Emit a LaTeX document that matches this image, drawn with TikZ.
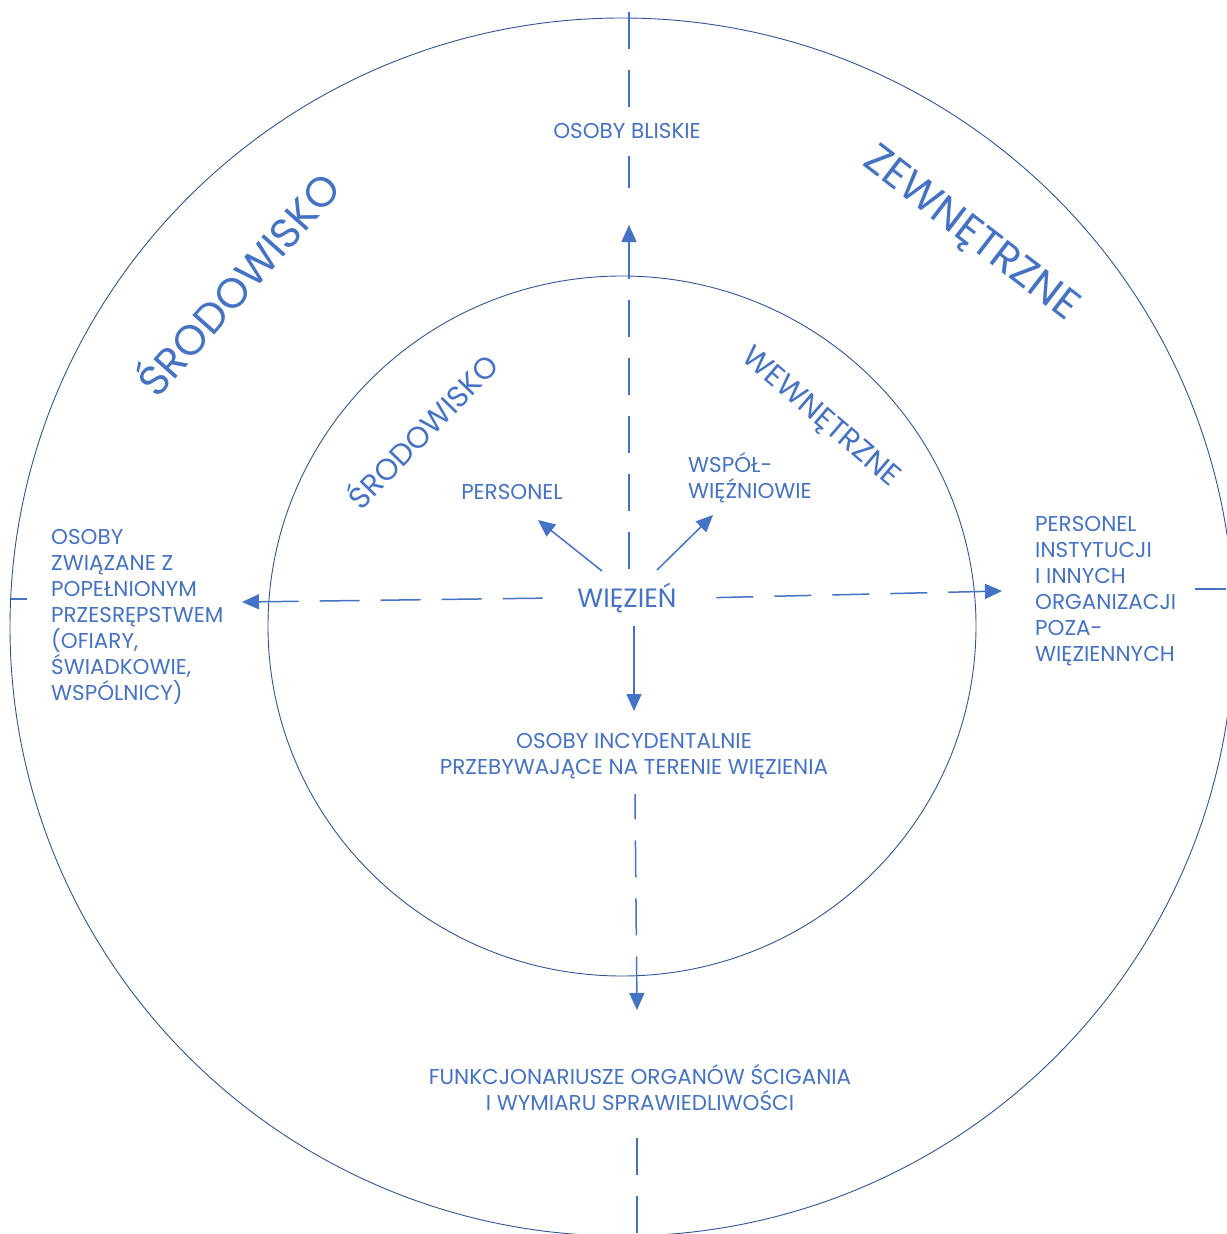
\documentclass[tikz,border=0pt]{standalone}
\usepackage{fontspec}
\setmainfont{Poppins}
\usetikzlibrary{arrows.meta}
\definecolor{tblue}{HTML}{4472C4}
\definecolor{cblue}{HTML}{2F5597}
\begin{document}
\begin{tikzpicture}[x=1pt,y=-1pt,
  lbl/.style={text=tblue, font=\fontsize{21.5}{26}\selectfont, inner sep=0pt},
  biglbl/.style={text=tblue, font=\fontsize{42}{50}\selectfont, inner sep=0pt},
  midlbl/.style={text=tblue, font=\fontsize{30}{36}\selectfont, inner sep=0pt},
  ring/.style={draw=cblue, line width=0.9pt},
  dsh/.style={draw=tblue, line width=1.5pt, dash pattern=on 37pt off 21pt},
  arr/.style={dsh, {Triangle[length=17pt,width=15pt]}-},
  sarr/.style={draw=tblue, line width=1.5pt, {Triangle[length=17pt,width=15pt]}-}
]
\useasboundingbox (0,0) rectangle (1226,1234);

% circles
\draw[ring] (622,627) ellipse [x radius=612pt, y radius=609pt];
\draw[ring] (622,626) ellipse [x radius=354pt, y radius=350pt];

% rotated titles
\node[biglbl, rotate=48.4] (sOut) at (236,282) {ŚRODOWISKO};
\node[biglbl, rotate=-37.5] (zOut) at (970,235) {ZEWNĘTRZNE};
\node[midlbl, rotate=46] (sIn) at (421,430) {ŚRODOWISKO};
\node[midlbl, rotate=-40.5] (wIn) at (820,418) {WEWNĘTRZNE};

% centre
\node[lbl, font=\fontsize{26.5}{30}\selectfont, inner xsep=22pt, inner ysep=13pt] (wiez) at (627,598) {WIĘZIEŃ};

% labels
\node[lbl] (bliskie) at (627,131) {OSOBY BLISKIE};
\node[lbl] (personel) at (512,492) {PERSONEL};
\node[lbl, anchor=west, align=left] (wspol) at (688,478) {WSPÓŁ-\\WIĘŹNIOWIE};
\node[lbl, align=center] (incyd) at (634,756) {OSOBY INCYDENTALNIE\\PRZEBYWAJĄCE NA TERENIE WIĘZIENIA};
\node[lbl, align=center] (funkc) at (640,1088) {FUNKCJONARIUSZE ORGANÓW ŚCIGANIA\\I WYMIARU SPRAWIEDLIWOŚCI};
\node[lbl, anchor=west, align=left] (osoby) at (51,617) {OSOBY\\ZWIĄZANE Z\\POPEŁNIONYM\\PRZESRĘPSTWEM\\(OFIARY,\\ŚWIADKOWIE,\\WSPÓLNICY)};
\node[lbl, anchor=west, align=left] (instyt) at (1035,591) {PERSONEL\\INSTYTUCJI\\I INNYCH\\ORGANIZACJI\\POZA-\\WIĘZIENNYCH};

% arrow tips and line ends
\coordinate (tUp) at (629,225);
\coordinate (tDown1) at (634,711);
\coordinate (tDown2) at (637,1010);
\coordinate (tLeft) at (242,602);
\coordinate (tRight) at (1002,591);
\coordinate (pStart) at (602,571);
\coordinate (tPers) at (538,520);
\coordinate (wStart) at (657,570);
\coordinate (tWsp) at (713,515);
\coordinate (topA) at (629,107);
\coordinate (topB) at (629,0);
\coordinate (midA) at (629,188);
\coordinate (midB) at (629,156);
\coordinate (downA) at (637,1138);
\coordinate (downB) at (637,1234);
\coordinate (leftA) at (27,599);
\coordinate (leftB) at (11,599);
\coordinate (rightA) at (1195,589);
\coordinate (rightB) at (1226,589);
\coordinate (incS) at (635,794);

% arrows from the prisoner (drawn tip first so a dash reaches each tip)
\draw[arr] (tUp) -- (wiez.north -| tUp);
\draw[sarr] (tDown1) -- (wiez.south -| tDown1);
\draw[arr, dash pattern=on 40pt off 21pt] (tLeft) -- (wiez.west);
\draw[arr] (tRight) -- (wiez.east);
\draw[sarr] (tPers) -- (pStart);
\draw[sarr] (tWsp) -- (wStart);
\draw[arr] (tDown2) -- (incS);

% continuation of the axes
\draw[dsh] (topA) -- (topB);
\draw[dsh] (midA) -- (midB);
\draw[dsh] (downA) -- (downB);
\draw[dsh] (leftA) -- (leftB);
\draw[dsh] (rightA) -- (rightB);
\end{tikzpicture}
\end{document}
